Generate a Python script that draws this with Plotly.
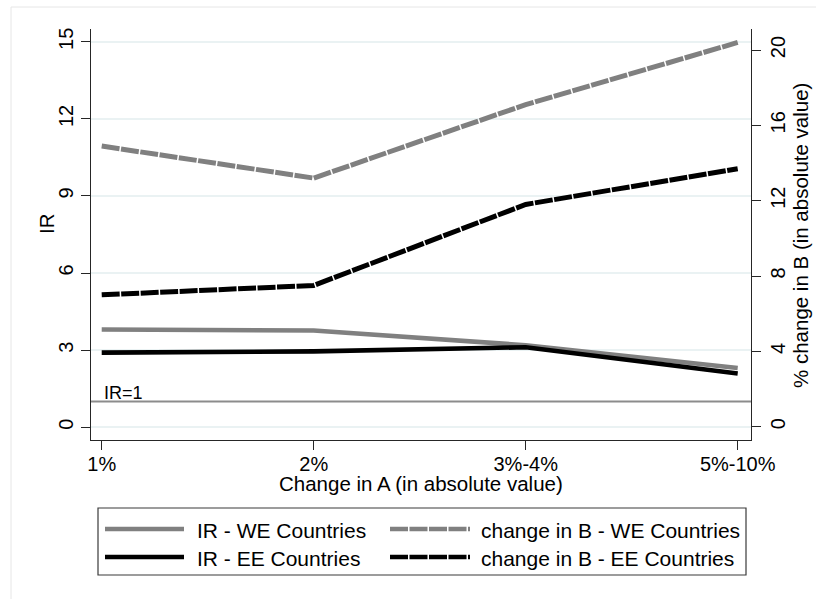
import plotly.graph_objects as go

# ---- data -------------------------------------------------------------
categories = ["1%", "2%", "3%-4%", "5%-10%"]

ir_we = [3.80, 3.76, 3.19, 2.30]          # IR, Western European countries
ir_ee = [2.90, 2.95, 3.11, 2.09]          # IR, Eastern European countries
chg_b_we = [14.9, 13.2, 17.1, 20.4]       # % change in B, WE countries
chg_b_ee = [7.0, 7.5, 11.8, 13.7]         # % change in B, EE countries

ir_ticks = [0, 3, 6, 9, 12, 15]
b_ticks = [0, 4, 8, 12, 16, 20]
ir_ref = 1

legend_labels = [
    "IR - WE Countries",
    "change in B - WE Countries",
    "IR - EE Countries",
    "change in B - EE Countries",
]

# ---- styling ----------------------------------------------------------
FONT = "Liberation Sans, Arial, Helvetica, sans-serif"
GRAY = "#808080"
BLACK = "#000000"
AXIS = "#262626"
GRID = "#eaf2f3"
DASH = "18px,1.5px"
W = 4.6

# plot area in pixels: x 91..751, y 29..440
L, R, T, B = 91, 751, 29, 440


def px(x):
    return (x - L) / (R - L)


def py(y):
    return (B - y) / (B - T)


fig = go.Figure()

fig.add_trace(go.Scatter(x=categories, y=ir_we, mode="lines", name=legend_labels[0],
                         line=dict(color=GRAY, width=W), yaxis="y"))
fig.add_trace(go.Scatter(x=categories, y=ir_ee, mode="lines", name=legend_labels[2],
                         line=dict(color=BLACK, width=W), yaxis="y"))
fig.add_trace(go.Scatter(x=categories, y=chg_b_we, mode="lines", name=legend_labels[1],
                         line=dict(color=GRAY, width=W + 0.4, dash=DASH), yaxis="y2"))
fig.add_trace(go.Scatter(x=categories, y=chg_b_ee, mode="lines", name=legend_labels[3],
                         line=dict(color=BLACK, width=W + 0.4, dash=DASH), yaxis="y2"))

shapes = []
# reference line IR = 1
shapes.append(dict(type="line", xref="paper", yref="y", x0=0, x1=1, y0=ir_ref, y1=ir_ref,
                   line=dict(color="#8c8c8c", width=2), layer="between"))
# outer graph-region frame
shapes.append(dict(type="rect", xref="paper", yref="paper",
                   x0=px(11), x1=px(840), y0=py(7), y1=py(640),
                   line=dict(color="#e6e6e6", width=1), layer="below"))
# legend box
shapes.append(dict(type="rect", xref="paper", yref="paper",
                   x0=px(98), x1=px(746), y0=py(508), y1=py(575),
                   line=dict(color="#3a3a3a", width=1.2), fillcolor="white", layer="above"))

legend_items = [
    (legend_labels[0], GRAY, None, 105, 184, 195, 529),
    (legend_labels[1], GRAY, DASH, 390, 470, 479, 529),
    (legend_labels[2], BLACK, None, 105, 184, 195, 557),
    (legend_labels[3], BLACK, DASH, 390, 470, 479, 557),
]

annotations = []
for text, color, dash, lx0, lx1, tx, ry in legend_items:
    line = dict(color=color, width=W)
    if dash:
        line["dash"] = dash
    shapes.append(dict(type="line", xref="paper", yref="paper",
                       x0=px(lx0), x1=px(lx1), y0=py(ry), y1=py(ry), line=line))
    annotations.append(dict(text=text, xref="paper", yref="paper", x=px(tx), y=py(ry + 1),
                            xanchor="left", yanchor="middle", showarrow=False,
                            font=dict(family=FONT, size=21, color="black")))

# axis titles
annotations.append(dict(text="Change in A (in absolute value)", xref="paper", yref="paper",
                        x=px(421), y=py(483), xanchor="center", yanchor="middle",
                        showarrow=False, font=dict(family=FONT, size=20.5, color="black")))
annotations.append(dict(text="IR", xref="paper", yref="paper", x=px(46), y=py(224),
                        xanchor="center", yanchor="middle", textangle=-90,
                        showarrow=False, font=dict(family=FONT, size=20.5, color="black")))
annotations.append(dict(text="% change in B (in absolute value)", xref="paper", yref="paper",
                        x=px(801), y=py(236), xanchor="center", yanchor="middle", textangle=-90,
                        showarrow=False, font=dict(family=FONT, size=20.5, color="black")))
# label of the reference line
annotations.append(dict(text="IR=1", xref="paper", yref="y", x=px(102), y=ir_ref,
                        xanchor="left", yanchor="middle", yshift=8, showarrow=False,
                        font=dict(family=FONT, size=18, color="black")))

tick_font = dict(family=FONT, size=20, color="black")

fig.update_layout(
    width=816, height=599,
    margin=dict(l=L, r=816 - R, t=T, b=599 - B, pad=0),
    paper_bgcolor="white", plot_bgcolor="white",
    showlegend=False,
    font=dict(family=FONT, color="black"),
    xaxis=dict(type="category", categoryorder="array", categoryarray=categories,
               range=[-0.0505, 3.0627], showline=True, linecolor=AXIS, linewidth=1,
               ticks="outside", ticklen=9, tickwidth=1, tickcolor=AXIS,
               ticklabelstandoff=-3,
               showgrid=False, zeroline=False, tickfont=tick_font),
    yaxis=dict(range=[-0.5, 15.5], tickvals=ir_ticks, tickangle=-90,
               showline=True, linecolor=AXIS, linewidth=1,
               ticks="outside", ticklen=9, tickwidth=1, tickcolor=AXIS,
               showgrid=True, gridcolor=GRID, gridwidth=1.5, zeroline=False,
               tickfont=tick_font),
    yaxis2=dict(range=[-0.706, 21.115], tickvals=b_ticks, tickangle=-90,
                overlaying="y", side="right",
                showline=True, linecolor=AXIS, linewidth=1,
                ticks="outside", ticklen=9, tickwidth=1, tickcolor=AXIS,
                showgrid=False, zeroline=False, tickfont=tick_font),
    shapes=shapes,
    annotations=annotations,
)

fig.write_html("out.html")
